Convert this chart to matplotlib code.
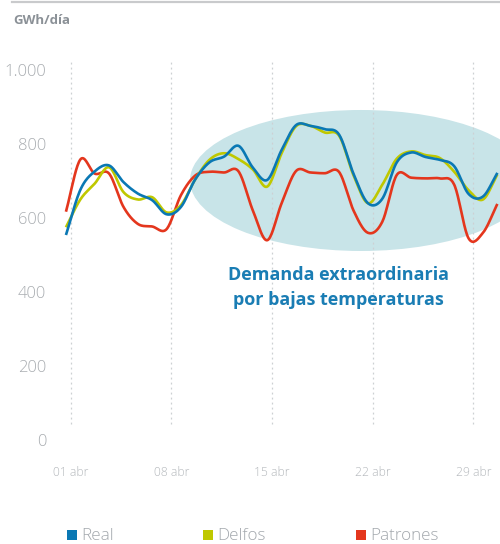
import numpy as np
import matplotlib
matplotlib.use("Agg")
import matplotlib.pyplot as plt
from matplotlib.patches import Ellipse, Rectangle

# ---------------- data ----------------
first_day = 0.67                      # first sample sits slightly before 01 abr
n_points = 31
real = [554, 676, 726, 742, 697, 666, 648, 610, 630, 705, 751, 766, 795, 736, 703,
        784, 851, 849, 840, 825, 719, 640, 652, 750, 777, 765, 757, 740, 665, 658, 722]
delfos = [575, 650, 693, 737, 670, 650, 656, 615, 635, 705, 758, 775, 759, 731, 685,
          775, 848, 849, 831, 822, 715, 640, 690, 760, 780, 770, 762, 725, 675, 650, 718]
patrones = [617, 758, 720, 720, 630, 584, 577, 570, 662, 715, 725, 723, 726, 620, 540,
            640, 727, 723, 721, 724, 620, 560, 590, 716, 709, 707, 707, 690, 545, 560, 638]

series_names = ["Real", "Delfos", "Patrones"]
series_colors = ["#0a78b4", "#bfc800", "#e4361d"]

x_ticks = [1, 8, 15, 22, 29]
x_tick_labels = ["01 abr", "08 abr", "15 abr", "22 abr", "29 abr"]
y_ticks = [0, 200, 400, 600, 800, 1000]
y_tick_labels = ["0", "200", "400", "600", "800", "1.000"]

unit_label = "GWh/día"
note_text = "Demanda extraordinaria\npor bajas temperaturas"

# ---------------- helpers ----------------
def catmull_rom(x, y, n=20):
    x = np.asarray(x, float)
    y = np.asarray(y, float)
    xp = np.concatenate([[2 * x[0] - x[1]], x, [2 * x[-1] - x[-2]]])
    yp = np.concatenate([[2 * y[0] - y[1]], y, [2 * y[-1] - y[-2]]])
    xs, ys = [], []
    t = np.linspace(0, 1, n, endpoint=False)
    for i in range(1, len(xp) - 2):
        p0, p1, p2, p3 = yp[i - 1], yp[i], yp[i + 1], yp[i + 2]
        q0, q1, q2, q3 = xp[i - 1], xp[i], xp[i + 1], xp[i + 2]
        def cr(a, b, c, d):
            return 0.5 * ((2 * b) + (-a + c) * t + (2 * a - 5 * b + 4 * c - d) * t ** 2
                          + (-a + 3 * b - 3 * c + d) * t ** 3)
        xs.append(cr(q0, q1, q2, q3))
        ys.append(cr(p0, p1, p2, p3))
    xs.append([x[-1]])
    ys.append([y[-1]])
    return np.concatenate(xs), np.concatenate(ys)

# ---------------- figure ----------------
W, H = 500, 544
fig = plt.figure(figsize=(W / 100, H / 100), dpi=100)
fig.patch.set_facecolor("white")

# axes: pixel x 60..500, pixel y 60..440
ax = fig.add_axes([60 / W, (H - 440) / H, 440 / W, 380 / H])
px_per_day = 14.38
x_left = 1 + (60 - 70.7) / px_per_day
x_right = 1 + (500 - 70.7) / px_per_day
ax.set_xlim(x_left, x_right)
ax.set_ylim(0, 1027)
for s in ax.spines.values():
    s.set_visible(False)

font = "Open Sans"

# highlight ellipse
ell = Ellipse((1 + (361 - 70.7) / px_per_day, (440 - 180.5) / 0.37),
              width=342 / px_per_day, height=141 / 0.37,
              facecolor="#c8e4e8", edgecolor="none", zorder=1)
ax.add_patch(ell)

# vertical dotted gridlines
ax.vlines(x_ticks, 43, 1027, colors="#cdd0d3", linewidth=0.9,
          linestyles=(0, (1.5, 2.5)), zorder=2)

days = first_day + np.arange(n_points)
for vals, col, z in zip([patrones, delfos, real], [series_colors[2], series_colors[1], series_colors[0]], [3, 4, 5]):
    xs, ys = catmull_rom(days, vals)
    ax.plot(xs, ys, color=col, linewidth=1.9, solid_capstyle="butt", zorder=z)

ax.set_xticks(x_ticks)
ax.set_xticklabels(x_tick_labels)
ax.set_yticks(y_ticks)
ax.set_yticklabels(y_tick_labels)
ax.tick_params(axis="x", length=0, pad=19, labelsize=8.7, labelcolor="#b3b7bb")
ax.tick_params(axis="y", length=0, pad=10, labelsize=12, labelcolor="#a9adb1")
for lab in ax.get_xticklabels() + ax.get_yticklabels():
    lab.set_fontfamily(font)
    lab.set_fontweight("light")

# annotation
ax.text(1 + (338 - 70.7) / px_per_day, (440 - 287.5) / 0.37, note_text,
        ha="center", va="center", fontsize=13, fontweight="bold",
        color="#1a7db4", family=font, linespacing=1.45, zorder=6)

# top rule and unit label
fig.add_artist(plt.Line2D([12 / W, 1], [1 - 2 / H, 1 - 2 / H], color="#c9cacc",
                          linewidth=1.6, transform=fig.transFigure))
fig.text(13 / W, 1 - 20 / H, unit_label, ha="left", va="center", fontsize=9.5,
         fontweight="bold", color="#8b9197", family=font)

# legend (manual)
sq_x = [66.7, 202.7, 356.0]
txt_x = [81.5, 217.0, 370.5]
for name, col, sx, tx in zip(series_names, series_colors, sq_x, txt_x):
    fig.add_artist(Rectangle((sx / W, (H - 539.5) / H), 10 / W, 9.5 / H,
                             transform=fig.transFigure, facecolor=col, edgecolor="none"))
    fig.text(tx / W, (H - 539.5) / H, name, ha="left", va="baseline", fontsize=12.3,
             color="#a3a8ad", family=font, fontweight="light")

fig.savefig("out.png", dpi=100)
